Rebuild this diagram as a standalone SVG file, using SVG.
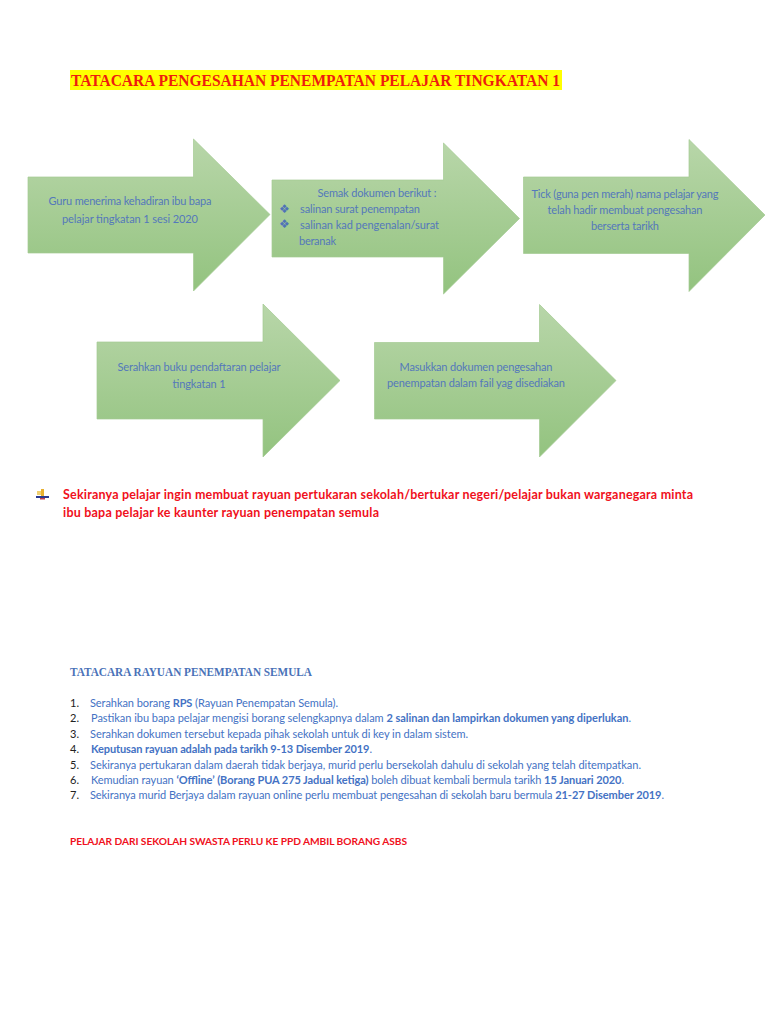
<svg xmlns="http://www.w3.org/2000/svg" width="768" height="1024" viewBox="0 0 768 1024">
<style>
.a{fill:url(#g);stroke:#a3ca92;stroke-width:.7}
.s{font:11px Lato,"Open Sans",sans-serif;fill:#5478bb}
.m{text-anchor:middle}
.l{font:11px Lato,"Open Sans",sans-serif;fill:#4472c4}
.n{font:11px Lato,"Open Sans",sans-serif;fill:#222}
.b{font-weight:700}
.r{font:700 12.5px Lato,"Open Sans",sans-serif;fill:#f01020}
.h{font-family:"Liberation Serif",serif;font-weight:700}
.d{font:12px "DejaVu Sans",sans-serif;fill:#4f72b8}
</style>
<defs><linearGradient id="g" x1="0" y1="0" x2="0" y2="1"><stop offset="0" stop-color="#b8d6a9"/><stop offset="1" stop-color="#93c37f"/></linearGradient></defs>
<rect width="768" height="1024" fill="#fff"/>
<g id="title"><rect x="70" y="70" width="492" height="20" fill="#ffff00"/>
<text class="h" x="71" y="86" font-size="17" fill="#ee1c0e" textLength="489" lengthAdjust="spacingAndGlyphs">TATACARA PENGESAHAN PENEMPATAN PELAJAR TINGKATAN 1</text></g>
<g id="arrow1"><path class="a" d="M28 177H193.500V139L270 214.500 193.500 291V253H28Z"/>
<text class="s m" x="130" y="205" textLength="163">Guru menerima kehadiran ibu bapa</text>
<text class="s m" x="130" y="223" textLength="136">pelajar tingkatan 1 sesi 2020</text></g>
<g id="arrow2"><path class="a" d="M272 180H443.500V143L519.500 218.500 443.500 294V257H272Z"/>
<text class="s m" x="377" y="197" textLength="119">Semak dokumen berikut :</text>
<text class="d" x="279" y="213">❖</text><text class="s" x="300" y="213" textLength="120">salinan surat penempatan</text>
<text class="d" x="279" y="228">❖</text><text class="s" x="300" y="229" textLength="139">salinan kad pengenalan/surat</text>
<text class="s" x="299" y="245" textLength="37">beranak</text></g>
<g id="arrow3"><path class="a" d="M523.500 177H689V139.500L765 215 689 291.500V253.500H523.500Z"/>
<text class="s m" x="625" y="198" textLength="187">Tick  (guna pen merah) nama pelajar yang</text>
<text class="s m" x="625" y="214" textLength="155">telah hadir membuat pengesahan</text>
<text class="s m" x="625" y="230" textLength="68">berserta tarikh</text></g>
<g id="arrow4"><path class="a" d="M97 342H263V304L340 380.500 263 457V419H97Z"/>
<text class="s m" x="199" y="371" textLength="163">Serahkan buku pendaftaran pelajar</text>
<text class="s m" x="199" y="388" textLength="53">tingkatan 1</text></g>
<g id="arrow5"><path class="a" d="M374.500 342.500H539.500V304.500L616 380.500 539.500 457V419H374.500Z"/>
<text class="s m" x="476" y="371" textLength="153">Masukkan dokumen pengesahan</text>
<text class="s m" x="476" y="387" textLength="178">penempatan dalam fail yag disediakan</text></g>
<g id="notice">
<path d="M41 489h3v7h-3z" fill="#e8b030"/><path d="M37 491h4v4h-4z" fill="#f0d070"/><path d="M36 496h13v2H36z" fill="#2a3a90"/><path d="M40 498h5v1.500h-5z" fill="#c04050"/>
<text class="r" x="63" y="499" textLength="630">Sekiranya pelajar ingin membuat rayuan pertukaran sekolah/bertukar negeri/pelajar bukan warganegara minta</text>
<text class="r" x="63" y="517" textLength="316">ibu bapa pelajar ke kaunter rayuan penempatan semula</text></g>
<g id="rayuan">
<text class="h" x="70" y="676" font-size="12.500" fill="#4a72b8" textLength="242" lengthAdjust="spacingAndGlyphs">TATACARA RAYUAN PENEMPATAN SEMULA</text>
<text class="n" x="70" y="707">1.</text><text class="n" x="70" y="722">2.</text><text class="n" x="70" y="738">3.</text><text class="n" x="70" y="753">4.</text><text class="n" x="70" y="769">5.</text><text class="n" x="70" y="784">6.</text><text class="n" x="70" y="799">7.</text>
<text class="l" x="90" y="707" textLength="248">Serahkan borang <tspan class="b">RPS</tspan> (Rayuan Penempatan Semula).</text>
<text class="l" x="91" y="722" textLength="540">Pastikan ibu bapa pelajar mengisi borang selengkapnya dalam <tspan class="b">2 salinan dan lampirkan dokumen yang diperlukan</tspan>.</text>
<text class="l" x="90" y="738" textLength="378">Serahkan dokumen tersebut kepada pihak sekolah untuk di key in dalam sistem.</text>
<text class="l b" x="91" y="753" textLength="281">Keputusan rayuan adalah pada tarikh 9-13 Disember 2019<tspan font-weight="400">.</tspan></text>
<text class="l" x="90" y="769" textLength="551">Sekiranya pertukaran dalam daerah tidak berjaya, murid perlu bersekolah dahulu di sekolah yang telah ditempatkan.</text>
<text class="l" x="91" y="784" textLength="533">Kemudian rayuan <tspan class="b">‘Offline’ (Borang PUA 275 Jadual ketiga)</tspan> boleh dibuat kembali bermula tarikh <tspan class="b">15 Januari 2020</tspan>.</text>
<text class="l" x="90" y="799" textLength="574">Sekiranya murid Berjaya dalam rayuan online perlu membuat pengesahan di sekolah baru bermula <tspan class="b">21-27 Disember 2019</tspan>.</text>
<text class="r" x="70" y="845" style="font-size:10.2px" textLength="337">PELAJAR DARI SEKOLAH SWASTA PERLU KE PPD AMBIL BORANG ASBS</text></g>
</svg>
